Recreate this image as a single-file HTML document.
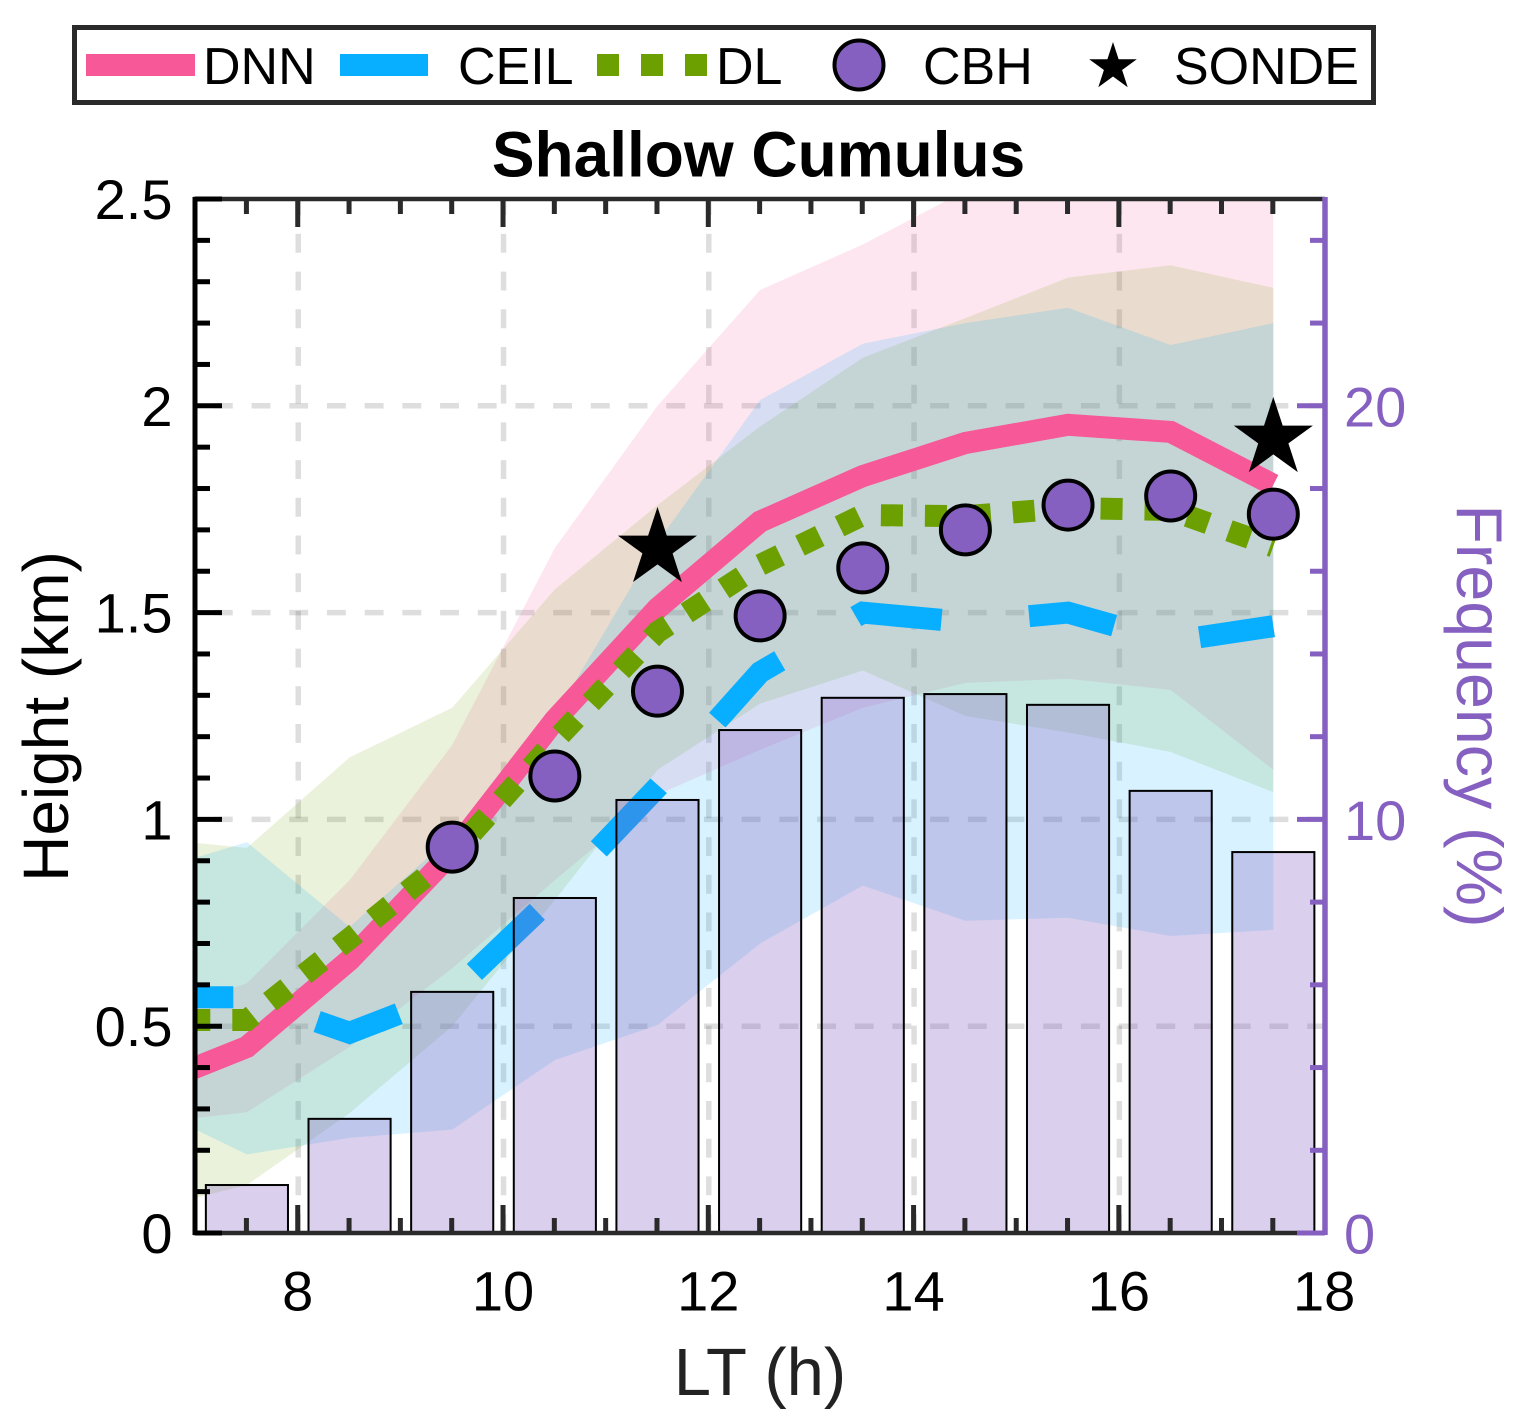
<!DOCTYPE html>
<html lang="en">
<head>
<meta charset="utf-8">
<title>Shallow Cumulus</title>
<style>
html,body{margin:0;padding:0;background:#fff;}
svg{display:block;}
text{font-family:"Liberation Sans",Arial,sans-serif;}
</style>
</head>
<body>
<svg id="chart" xmlns="http://www.w3.org/2000/svg" width="1534" height="1420" viewBox="0 0 1534 1420">
  <defs>
    <clipPath id="plot-clip"><rect x="195" y="199" width="1130" height="1034"/></clipPath>
  </defs>
  <rect x="0" y="0" width="1534" height="1420" fill="#ffffff"/>

  <g id="grid"></g>
  <g id="bands" clip-path="url(#plot-clip)"></g>
  <g id="lines" clip-path="url(#plot-clip)"></g>
  <g id="bars"></g>
  <g id="axes"></g>
  <g id="markers"></g>

  <g>
    <rect x="74.5" y="27.5" width="1299" height="75" fill="#ffffff" stroke="#2a2a2a" stroke-width="5"/>
    <line x1="86" y1="65" x2="195" y2="65" stroke="#f65898" stroke-width="22"/>
    <text x="203" y="84" font-size="52" fill="#000">DNN</text>
    <line x1="340" y1="65" x2="428" y2="65" stroke="#08aeff" stroke-width="22"/>
    <text x="458" y="84" font-size="52" fill="#000">CEIL</text>
    <line x1="597" y1="65" x2="707" y2="65" stroke="#6ca000" stroke-width="22" stroke-dasharray="22 22"/>
    <text x="716" y="84" font-size="52" fill="#000">DL</text>
    <circle cx="859" cy="65" r="24.5" fill="#8560c0" stroke="#000" stroke-width="4"/>
    <text x="923" y="84" font-size="52" fill="#000">CBH</text>
    <polygon id="legend-star" fill="#000"/>
    <text x="1174" y="84" font-size="52" fill="#000">SONDE</text>
  </g>

  <text x="758.5" y="176.5" font-size="64" font-weight="bold" text-anchor="middle" fill="#000">Shallow Cumulus</text>
  <text x="760" y="1395" font-size="67" text-anchor="middle" fill="#222">LT (h)</text>
  <text transform="translate(68 716.5) rotate(-90)" font-size="64" text-anchor="middle" fill="#000">Height (km)</text>
  <text transform="translate(1457 716) rotate(90)" font-size="64.5" text-anchor="middle" fill="#8560c0">Frequency (%)</text>
</svg>

<script>
// ---- data ----
const hours = [6.5,7.5,8.5,9.5,10.5,11.5,12.5,13.5,14.5,15.5,16.5,17.5];
const dnnHeight = [0.35,0.45,0.66,0.92,1.24,1.51,1.72,1.83,1.91,1.954,1.937,1.809];
const ceilHeight = [0.57,0.57,0.484,0.58,0.817,1.078,1.356,1.5,1.477,1.5,1.43,1.467];
const dlHeight = [0.515,0.515,0.712,0.914,1.19,1.453,1.615,1.736,1.733,1.753,1.748,1.66];
const dnnUpper = [0.52,0.604,0.853,1.18,1.656,2.0,2.28,2.39,2.52,2.6,2.6,2.6];
const dnnLower = [0.264,0.292,0.45,0.64,0.853,1.06,1.168,1.27,1.33,1.34,1.313,1.12];
const ceilUpper = [0.87,0.945,0.74,0.96,1.25,1.67,2.014,2.15,2.2,2.237,2.147,2.2];
const ceilLower = [0.31,0.19,0.23,0.25,0.418,0.503,0.7,0.84,0.755,0.762,0.718,0.733];
const dlUpper = [0.955,0.931,1.15,1.27,1.556,1.76,1.95,2.116,2.212,2.31,2.34,2.285];
const dlLower = [0.054,0.116,0.29,0.5,0.805,1.12,1.28,1.36,1.25,1.21,1.163,1.066];
const barHours = [7.5,8.5,9.5,10.5,11.5,12.5,13.5,14.5,15.5,16.5,17.5];
const barFrequency = [1.16,2.76,5.83,8.1,10.47,12.16,12.94,13.03,12.77,10.69,9.21];
const cbhHours = [9.5,10.5,11.5,12.5,13.5,14.5,15.5,16.5,17.5];
const cbhHeight = [0.933,1.105,1.31,1.492,1.608,1.70,1.76,1.782,1.738];
const sondeHours = [11.5,17.5];
const sondeHeight = [1.655,1.921];
const xTickValues = [8,10,12,14,16,18];
const xTickLabels = ['8','10','12','14','16','18'];
const yTickValues = [0,0.5,1,1.5,2,2.5];
const yTickLabels = ['0','0.5','1','1.5','2','2.5'];
const rightTickValues = [0,10,20];
const rightTickLabels = ['0','10','20'];

// ---- scales ----
const X = h => 195.6 + (h - 7) * 102.64;
const Y = v => 1233 - v * 413.6;
const YR = f => 1233 - f * 41.36;
const NS = 'http://www.w3.org/2000/svg';
const PURPLE = '#8560c0';
const DARK = '#2a2a2a';

function mk(tag, parentId, attrs, txt) {
  const e = document.createElementNS(NS, tag);
  for (const k in attrs) e.setAttribute(k, attrs[k]);
  if (txt !== undefined) e.textContent = txt;
  document.getElementById(parentId).appendChild(e);
  return e;
}
function linePath(ys) {
  return hours.map((h, i) => (i ? 'L' : 'M') + X(h).toFixed(1) + ' ' + Y(ys[i]).toFixed(1)).join(' ');
}
function bandPoints(up, lo) {
  const a = hours.map((h, i) => X(h).toFixed(1) + ',' + Y(up[i]).toFixed(1));
  const b = hours.map((h, i) => X(h).toFixed(1) + ',' + Y(lo[i]).toFixed(1)).reverse();
  return a.concat(b).join(' ');
}
function starPoints(cx, cy, R) {
  const r = R * 0.382, p = [];
  for (let i = 0; i < 10; i++) {
    const a = -Math.PI / 2 + i * Math.PI / 5, q = i % 2 ? r : R;
    p.push((cx + q * Math.cos(a)).toFixed(1) + ',' + (cy + q * Math.sin(a)).toFixed(1));
  }
  return p.join(' ');
}

// ---- grid ----
[8,10,12,14,16].forEach(h => {
  const g = mk('line', 'grid', {x1:X(h), y1:1233, x2:X(h), y2:199, stroke:'#000', 'stroke-opacity':0.13, 'stroke-width':5.5, 'stroke-dasharray':'18.9 18.8'});
  
  
});
[0.5,1,1.5,2].forEach(v => {
  const g = mk('line', 'grid', {x1:213.85, y1:Y(v), x2:1323, y2:Y(v), stroke:'#000', 'stroke-opacity':0.13, 'stroke-width':5.5, 'stroke-dasharray':'18.9 18.8'});
  
  
});

// ---- bands ----
const bandDnn = mk('polygon', 'bands', {points:bandPoints(dnnUpper, dnnLower), fill:'#f65898', 'fill-opacity':0.15});


const bandDl = mk('polygon', 'bands', {points:bandPoints(dlUpper, dlLower), fill:'#6ca000', 'fill-opacity':0.14});


const bandCeil = mk('polygon', 'bands', {points:bandPoints(ceilUpper, ceilLower), fill:'#08aeff', 'fill-opacity':0.155});



// ---- lines ----
const lineDnn = mk('path', 'lines', {d:linePath(dnnHeight), fill:'none', stroke:'#f65898', 'stroke-width':22, 'stroke-linejoin':'miter'});


const lineCeil = mk('path', 'lines', {d:linePath(ceilHeight), fill:'none', stroke:'#08aeff', 'stroke-width':22, 'stroke-dasharray':'87 88', 'stroke-dashoffset':-2, 'stroke-linejoin':'miter'});


const lineDl = mk('path', 'lines', {d:linePath(dlHeight), fill:'none', stroke:'#6ca000', 'stroke-width':22, 'stroke-dasharray':'22 22', 'stroke-linejoin':'miter'});



// ---- bars ----
barHours.forEach((h, i) => {
  const w = 0.8 * 102.64;
  const b = mk('rect', 'bars', {x:X(h) - w / 2, y:YR(barFrequency[i]), width:w, height:1233 - YR(barFrequency[i]), fill:PURPLE, 'fill-opacity':0.3, stroke:'#000', 'stroke-width':2});
  
  
});

// ---- axes ----
const spineTop = mk('line', 'axes', {x1:193, y1:199, x2:1325, y2:199, stroke:DARK, 'stroke-width':4.5});


const spineBottom = mk('line', 'axes', {x1:193, y1:1233, x2:1325, y2:1233, stroke:DARK, 'stroke-width':4.5});


const spineLeft = mk('line', 'axes', {x1:195, y1:197, x2:195, y2:1235, stroke:'#000', 'stroke-width':5});



for (let k = 1; k < 22; k++) {
  const h = 7 + k * 0.5, major = k % 4 === 2 && h < 18;
  const len = major ? 28 : 15;
  const tb = mk('line', 'axes', {x1:X(h) - 0.5, y1:1233, x2:X(h) - 0.5, y2:1233 - len, stroke:DARK, 'stroke-width':5});
  
  
  const tt = mk('line', 'axes', {x1:X(h) - 0.5, y1:199, x2:X(h) - 0.5, y2:199 + len, stroke:DARK, 'stroke-width':5});
  
  
}
for (let k = 0; k <= 25; k++) {
  const v = k / 10, major = k % 5 === 0;
  const t = mk('line', 'axes', {x1:195, y1:Y(v), x2:major ? 222 : 210, y2:Y(v), stroke:'#000', 'stroke-width':5});
  
  
}

const spineRight = mk('line', 'axes', {x1:1325, y1:197, x2:1325, y2:1235, stroke:PURPLE, 'stroke-width':5.5});


for (let f = 0; f <= 24; f += 2) {
  const major = f % 10 === 0;
  const t = mk('line', 'axes', {x1:1325, y1:YR(f), x2:major ? 1297 : 1310, y2:YR(f), stroke:PURPLE, 'stroke-width':5});
  
  
}

xTickValues.forEach((h, i) => {
  const t = mk('text', 'axes', {x:X(h) - 0.5, y:1310.5, 'font-size':56, 'text-anchor':'middle', fill:'#000'}, xTickLabels[i]);
  
  
});
yTickValues.forEach((v, i) => {
  const t = mk('text', 'axes', {x:172.5, y:Y(v) + 20, 'font-size':56, 'text-anchor':'end', fill:'#000'}, yTickLabels[i]);
  
  
});
rightTickValues.forEach((f, i) => {
  const t = mk('text', 'axes', {x:1344, y:YR(f) + 20.5, 'font-size':56, fill:PURPLE}, rightTickLabels[i]);
  
  
});

// ---- markers ----
cbhHours.forEach((h, i) => {
  const c = mk('circle', 'markers', {cx:X(h), cy:Y(cbhHeight[i]), r:24.5, fill:PURPLE, stroke:'#000', 'stroke-width':4});
  
  
});
sondeHours.forEach((h, i) => {
  const s = mk('polygon', 'markers', {points:starPoints(X(h), Y(sondeHeight[i]), 41.6), fill:'#000'});
  
  
});
document.getElementById('legend-star').setAttribute('points', starPoints(1113, 67, 25));
</script>
</body>
</html>
